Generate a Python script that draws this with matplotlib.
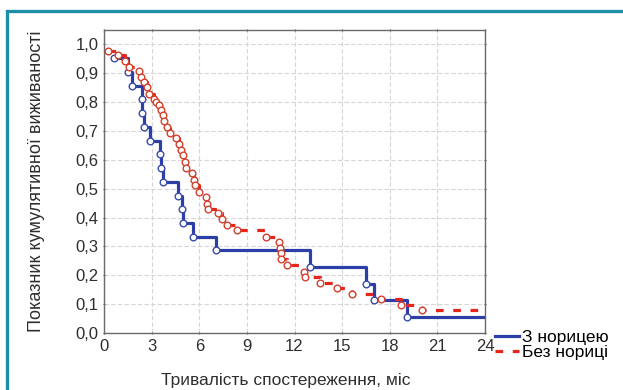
import matplotlib
matplotlib.use("Agg")
import matplotlib.pyplot as plt
from matplotlib.patches import Rectangle

# ---------------------------------------------------------------------------
# Data
# ---------------------------------------------------------------------------

# "З норицею" - survival steps, circles at each step point
blue_t = [0.65, 1.5, 1.78, 2.38, 2.42, 2.55, 2.88, 3.53, 3.6, 3.7, 4.66, 4.9,
          4.98, 5.58, 7.06, 13.0, 16.53, 17.03, 19.06]
blue_s = [0.952, 0.905, 0.857, 0.81, 0.762, 0.714, 0.667, 0.619, 0.571, 0.524,
          0.476, 0.429, 0.381, 0.333, 0.286, 0.229, 0.171, 0.114, 0.057]

# "Без нориці"
red_t = [0.25, 0.9, 1.35, 1.6, 2.18, 2.33, 2.53, 2.70, 2.86, 3.16, 3.28, 3.46,
         3.61, 3.71, 3.78, 3.96, 4.16, 4.53, 4.71, 4.83, 4.96, 5.09, 5.16, 5.56,
         5.66, 5.71, 6.01, 6.41, 6.49, 6.54, 7.21, 7.41, 7.77, 8.39, 10.22,
         11.02, 11.10, 11.12, 11.17, 11.52, 12.6, 12.68, 13.6, 14.65, 15.65,
         17.43, 18.74, 20.04]
red_s = [0.978, 0.965, 0.942, 0.923, 0.907, 0.888, 0.870, 0.851, 0.828, 0.81,
         0.80, 0.789, 0.773, 0.755, 0.735, 0.715, 0.694, 0.675, 0.655, 0.634,
         0.617, 0.594, 0.571, 0.554, 0.531, 0.513, 0.490, 0.471, 0.448, 0.430,
         0.415, 0.394, 0.375, 0.358, 0.334, 0.314, 0.294, 0.277, 0.256, 0.234,
         0.213, 0.193, 0.173, 0.156, 0.135, 0.118, 0.098, 0.078]

t_end = 24.0
labels = ["З норицею", "Без нориці"]
x_ticks = [0, 3, 6, 9, 12, 15, 18, 21, 24]
y_ticks = [0.0, 0.1, 0.2, 0.3, 0.4, 0.5, 0.6, 0.7, 0.8, 0.9, 1.0]

BLUE = "#2d3fa6"
RED = "#e6261c"
RED_EDGE = "#d2402c"
TEAL = "#1e8fa6"
TXT = "#2e2e2e"

plt.rcParams["font.family"] = ["Liberation Sans", "DejaVu Sans"]

fig = plt.figure(figsize=(6.23, 3.90), dpi=100)
ax = fig.add_axes([104 / 623, 1 - 333 / 390, 381 / 623, 303 / 390])

# grid
ax.grid(True, color="#d6d6d6", linestyle=(0, (4, 2)), linewidth=0.8, zorder=0)
ax.set_axisbelow(True)

# curves
ax.step(blue_t + [t_end], blue_s + [blue_s[-1]], where="post", color=BLUE,
        linewidth=2.3, label=labels[0], zorder=3)
ax.plot(blue_t, blue_s, "o", markersize=4.8, markerfacecolor="white",
        markeredgecolor="#3a4aa8", markeredgewidth=1.0, zorder=5)

ax.step(red_t + [t_end], red_s + [red_s[-1]], where="post", color=RED,
        linewidth=2.3, linestyle=(0, (2.4, 3.0)), label=labels[1], zorder=4)
ax.plot(red_t, red_s, "o", markersize=4.8, markerfacecolor="white",
        markeredgecolor=RED_EDGE, markeredgewidth=1.0, zorder=6)

ax.set_xlim(0, 24)
ax.set_ylim(0, 1.05)
ax.set_xticks(x_ticks)
ax.set_yticks(y_ticks)
ax.set_yticklabels([f"{v:.1f}".replace(".", ",") for v in y_ticks])

for s in ax.spines.values():
    s.set_color("#6a6a6a")
    s.set_linewidth(1.0)
ax.tick_params(axis="both", labelsize=12, colors="#555555", labelcolor=TXT,
               length=2, width=0.8, direction="inout", pad=3,
               top=True, right=True)

ax.set_ylabel("Показник кумулятивної виживаності", fontsize=13, color=TXT)
ax.yaxis.set_label_coords((45 - 104) / 381, 0.5)
fig.text(286 / 623, 1 - 381 / 390, "Тривалість спостереження, міс",
         fontsize=12.5, color=TXT, ha="center", va="center")

ax.legend(loc="upper left", bbox_to_anchor=(495 / 623, 1 - 330 / 390),
          bbox_transform=fig.transFigure, frameon=False, fontsize=12.5,
          handlelength=1.4, handletextpad=0.15, labelspacing=0.0,
          borderpad=0, borderaxespad=0)

# teal frame around the panel
fig.add_artist(Rectangle((6.5 / 623, -0.2), 1.2, 1.2 - 10.5 / 390,
                         transform=fig.transFigure, fill=False,
                         edgecolor=TEAL, linewidth=2.4, clip_on=False))

fig.savefig("out.png", dpi=100)
